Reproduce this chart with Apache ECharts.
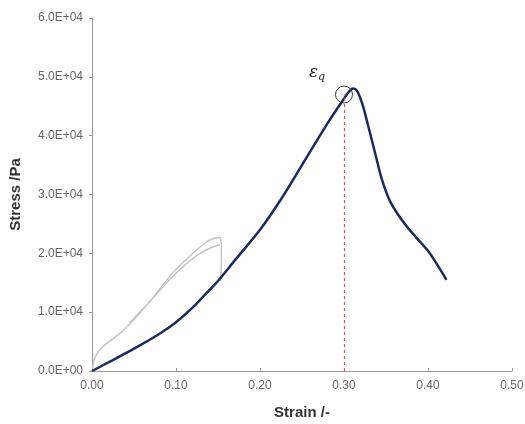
<!DOCTYPE html>
<html>
<head>
<meta charset="utf-8">
<script src="https://cdn.jsdelivr.net/npm/echarts@6/dist/echarts.min.js"></script>
<style>
  html, body { margin: 0; padding: 0; background: #fff; }
  #chart { width: 525px; height: 424px; }
</style>
</head>
<body>
<div id="chart"></div>
<script>
// main loading curve (strain, stress)
var mainCurve = [
  [0, 0], [0.02, 1500], [0.05, 3800], [0.08, 6300], [0.10, 8300],
  [0.12, 10800], [0.14, 13800], [0.15, 15300], [0.17, 18800],
  [0.20, 24000], [0.225, 29200], [0.25, 35000], [0.28, 42000],
  [0.30, 46300], [0.306, 47500], [0.311, 48000], [0.316, 47500],
  [0.322, 45300], [0.33, 41000], [0.338, 36500], [0.345, 32600],
  [0.355, 28800], [0.375, 24500], [0.399, 20600], [0.41, 18300], [0.422, 15500]
];
// grey pre-cycle, outer branch
var cycleOuter = [
  [0, 0], [0.003, 2200], [0.011, 3900], [0.035, 6600], [0.055, 9500],
  [0.075, 12900], [0.094, 16300], [0.114, 19200], [0.135, 21800],
  [0.146, 22600], [0.152, 22700], [0.154, 21600], [0.154, 18000], [0.153, 15300]
];
// grey pre-cycle, inner branch
var cycleInner = [
  [0.152, 21400], [0.148, 21300], [0.132, 20300], [0.113, 18300],
  [0.093, 15600], [0.07, 12000], [0.045, 8200]
];
var peakStrain = 0.30;
var peakStress = 47000;
var xTicks = [0, 0.1, 0.2, 0.3, 0.4, 0.5];
var yTicks = [0, 1e4, 2e4, 3e4, 4e4, 5e4, 6e4];

function sci(v) {
  if (v === 0) return '0.0E+00';
  var e = Math.floor(Math.log10(Math.abs(v)));
  var m = (v / Math.pow(10, e)).toFixed(1);
  return m + 'E+' + (e < 10 ? '0' + e : e);
}

var chart = echarts.init(document.getElementById('chart'));
chart.setOption({
  animation: false,
  textStyle: { fontFamily: 'Liberation Sans, Arial, sans-serif' },
  grid: { left: 92, right: 13, top: 18, bottom: 53, containLabel: false, outerBoundsMode: 'none' },
  xAxis: {
    type: 'value',
    min: xTicks[0], max: xTicks[xTicks.length - 1], interval: 0.1,
    name: 'Strain /-',
    nameLocation: 'middle',
    nameGap: 34,
    nameTextStyle: { fontSize: 15, fontWeight: 'bold', color: '#333' },
    axisLine: { lineStyle: { color: '#999', width: 1 } },
    axisTick: { show: true, inside: true, length: 3, lineStyle: { color: '#999' } },
    axisLabel: { fontSize: 12, color: '#666', margin: 9, formatter: function (v) { return v.toFixed(2); } },
    splitLine: { show: false }
  },
  yAxis: {
    type: 'value',
    min: yTicks[0], max: yTicks[yTicks.length - 1], interval: 1e4,
    name: 'Stress /Pa',
    nameLocation: 'middle',
    nameGap: 69,
    nameTextStyle: { fontSize: 15, fontWeight: 'bold', color: '#333' },
    axisLine: { show: true, lineStyle: { color: '#999', width: 1 } },
    axisTick: { show: true, length: 3, lineStyle: { color: '#999' } },
    axisLabel: { fontSize: 12, color: '#666', margin: 9, formatter: sci },
    splitLine: { show: false }
  },
  series: [
    {
      type: 'line', data: cycleOuter, showSymbol: false, smooth: 0.2,
      lineStyle: { color: '#c4c4c4', width: 1.5 }, z: 1
    },
    {
      type: 'line', data: cycleInner, showSymbol: false, smooth: 0.2,
      lineStyle: { color: '#c4c4c4', width: 1.5 }, z: 1
    },
    {
      type: 'line', data: mainCurve, showSymbol: false, smooth: 0.3,
      lineStyle: { color: '#1c2b5e', width: 2.5 }, z: 3,
      markLine: {
        silent: true, symbol: 'none',
        lineStyle: { color: '#e8554e', type: [3, 3], width: 1.2 },
        label: { show: false },
        data: [[{ coord: [peakStrain, 0] }, { coord: [peakStrain, peakStress] }]]
      },
      markPoint: {
        silent: true,
        symbol: 'circle', symbolSize: 17,
        itemStyle: { color: 'rgba(0,0,0,0)', borderColor: '#333', borderWidth: 1 },
        label: {
          show: true, position: [-26, -22],
          formatter: '{e|ε}{q|q}',
          rich: {
            e: { fontFamily: 'DejaVu Serif, serif', fontStyle: 'italic', fontSize: 17, color: '#222' },
            q: { fontFamily: 'DejaVu Serif, serif', fontStyle: 'italic', fontSize: 11, color: '#222', padding: [8, 0, 0, 0] }
          }
        },
        data: [{ coord: [peakStrain, peakStress] }]
      }
    }
  ]
});
</script>
</body>
</html>
